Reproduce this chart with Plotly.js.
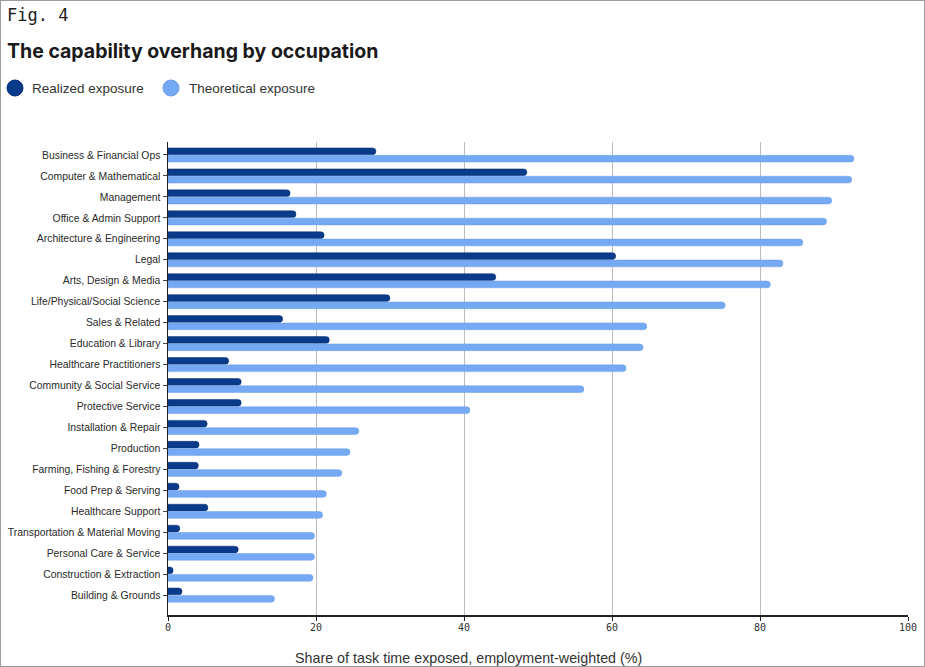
<!DOCTYPE html>
<html>
<head>
<meta charset="utf-8">
<script src="https://cdn.plot.ly/plotly-3.0.1.min.js"></script>
<style>
  html, body { margin: 0; padding: 0; background: #fff; }
  #frame { width: 925px; height: 667px; box-sizing: border-box; border: 1px solid #9c9c9c; }
  #chart { width: 923px; height: 665px; }
</style>
</head>
<body>
<div id="frame"><div id="chart"></div></div>
<script>
// Occupation groups, top to bottom
const occupations = [
  "Business & Financial Ops",
  "Computer & Mathematical",
  "Management",
  "Office & Admin Support",
  "Architecture & Engineering",
  "Legal",
  "Arts, Design & Media",
  "Life/Physical/Social Science",
  "Sales & Related",
  "Education & Library",
  "Healthcare Practitioners",
  "Community & Social Service",
  "Protective Service",
  "Installation & Repair",
  "Production",
  "Farming, Fishing & Forestry",
  "Food Prep & Serving",
  "Healthcare Support",
  "Transportation & Material Moving",
  "Personal Care & Service",
  "Construction & Extraction",
  "Building & Grounds"
];

// Share of task time exposed (%), employment-weighted
const realizedExposure = [
  28.1, 48.5, 16.5, 17.3, 21.1, 60.5, 44.3, 30.0, 15.5, 21.8, 8.2,
  9.9, 9.9, 5.3, 4.2, 4.1, 1.5, 5.4, 1.6, 9.5, 0.7, 1.9
];
const theoreticalExposure = [
  92.7, 92.4, 89.7, 89.0, 85.8, 83.1, 81.4, 75.3, 64.7, 64.2, 61.9,
  56.2, 40.8, 25.8, 24.6, 23.5, 21.4, 20.9, 19.8, 19.8, 19.6, 14.4
];

const xTicks = [0, 20, 40, 60, 80, 100];

const DARK = "#0a3a8a";
const LIGHT = "#76a9f4";

// Plot-area geometry (pixels inside the chart div)
const W = 923, H = 665;
const M = { l: 167, r: 16, t: 141, b: 51 };
const plotW = W - M.l - M.r, plotH = H - M.t - M.b;
const px = x => (x - M.l) / plotW;          // pixel -> paper x
const py = y => (H - M.b - y) / plotH;      // pixel -> paper y

const traces = [
  {
    type: "bar", orientation: "h", name: "Realized exposure",
    y: occupations, x: realizedExposure,
    marker: { color: DARK, cornerradius: 3.5, line: { color: "#06306f", width: 0.5 } },
    showlegend: false, hoverinfo: "x+y"
  },
  {
    type: "bar", orientation: "h", name: "Theoretical exposure",
    y: occupations, x: theoreticalExposure,
    marker: { color: LIGHT, cornerradius: 3.5, line: { color: "#6a9eea", width: 0.5 } },
    showlegend: false, hoverinfo: "x+y"
  }
];

const legendY = py(87);
const shapes = [
  // legend swatches
  { type: "circle", xref: "paper", yref: "paper",
    x0: px(6), x1: px(22), y0: py(95), y1: py(79),
    fillcolor: DARK, line: { color: "#062f72", width: 1 } },
  { type: "circle", xref: "paper", yref: "paper",
    x0: px(162), x1: px(178), y0: py(95), y1: py(79),
    fillcolor: LIGHT, line: { color: "#6a9eea", width: 1 } }
];

const annotations = [
  { text: "Fig. 4", xref: "paper", yref: "paper", x: px(4), y: py(14),
    xanchor: "left", yanchor: "middle", showarrow: false,
    font: { family: "DejaVu Sans Mono", size: 17, color: "#222" } },
  { text: "<b>The capability overhang by occupation</b>", xref: "paper", yref: "paper",
    x: px(4), y: py(50), xanchor: "left", yanchor: "middle", showarrow: false,
    font: { family: "Inter, Roboto, sans-serif", size: 19.5, color: "#1a1a1a" } },
  { text: "Realized exposure", xref: "paper", yref: "paper",
    x: px(29), y: legendY, xanchor: "left", yanchor: "middle", showarrow: false,
    font: { family: "Liberation Sans, Arial, sans-serif", size: 13.5, color: "#333" } },
  { text: "Theoretical exposure", xref: "paper", yref: "paper",
    x: px(186), y: legendY, xanchor: "left", yanchor: "middle", showarrow: false,
    font: { family: "Liberation Sans, Arial, sans-serif", size: 13.5, color: "#333" } },
  { text: "Share of task time exposed, employment-weighted (%)", xref: "paper", yref: "paper",
    x: px(467), y: py(657), xanchor: "center", yanchor: "middle", showarrow: false,
    font: { family: "Liberation Sans, Arial, sans-serif", size: 14.3, color: "#333" } }
];

const layout = {
  width: W, height: H,
  margin: M,
  paper_bgcolor: "#fff", plot_bgcolor: "#fff",
  barmode: "group", bargap: 0.3, bargroupgap: 0.08,
  showlegend: false,
  xaxis: {
    range: [0, 100], tickvals: xTicks, ticktext: xTicks.map(String),
    showgrid: true, gridcolor: "#bdbdbd", gridwidth: 1,
    zeroline: false, showline: true, linecolor: "#222", linewidth: 1.5,
    ticks: "outside", ticklen: 4, tickcolor: "#222", ticklabelstandoff: -2,
    tickfont: { family: "DejaVu Sans Mono", size: 10, color: "#333" },
    fixedrange: true
  },
  yaxis: {
    type: "category", range: [21.95, -0.62],
    showgrid: false, zeroline: false, showline: true, linecolor: "#222", linewidth: 1.5,
    ticks: "outside", ticklen: 4, tickcolor: "#444",
    tickfont: { family: "Liberation Sans, Arial, sans-serif", size: 10.4, color: "#2a2a2a" },
    fixedrange: true
  },
  shapes: shapes,
  annotations: annotations,
  font: { family: "Liberation Sans, Arial, sans-serif" }
};

Plotly.newPlot("chart", traces, layout, { displayModeBar: false, staticPlot: true });
</script>
</body>
</html>
